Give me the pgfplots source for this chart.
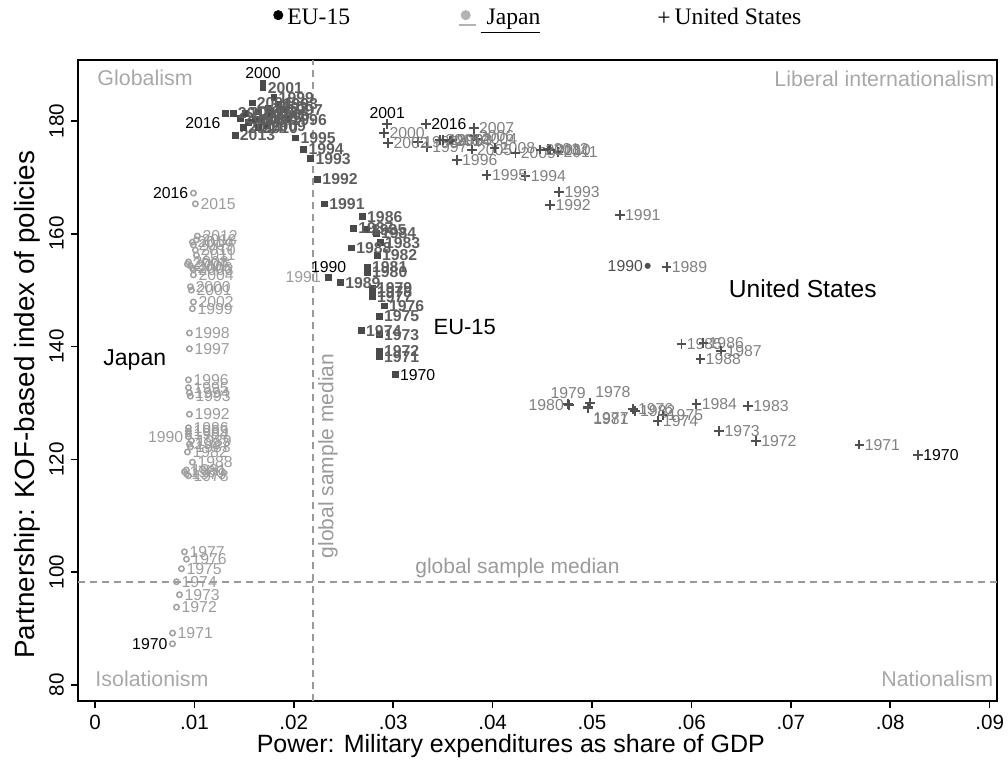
\documentclass[border=0pt]{standalone}
\usepackage{fontspec}
\setmainfont{Liberation Sans}
\newfontfamily\legfont{Liberation Serif}
\usepackage{pgfplots}
\usepackage{pgfplotstable}
\pgfplotsset{compat=1.18}
\definecolor{emark}{HTML}{4A4A4A}
\definecolor{elab}{HTML}{5E5E5E}
\definecolor{umark}{HTML}{505050}
\definecolor{ulab}{HTML}{808080}
\definecolor{jmark}{HTML}{A0A0A0}
\definecolor{jlab}{HTML}{9C9C9C}
\definecolor{dlab}{HTML}{4F4F4F}
\definecolor{corner}{HTML}{A8A8A8}
\definecolor{medc}{HTML}{9A9A9A}
\newcommand\fblack{\fontsize{7.9}{8}\selectfont}
\newcommand\felab{\fontsize{7.9}{8}\selectfont\bfseries}
\newcommand\fulab{\fontsize{7.9}{8}\selectfont}

% EU-15: year labels to the right
\pgfplotstableread{
x y lab
0.0286 138.2 1971
0.0286 139.2 1972
0.0286 142.1 1973
0.0268 142.8 1974
0.0286 145.4 1975
0.0291 147.2 1976
0.0279 148.8 1977
0.0279 149.7 1978
0.0279 150.4 1979
0.0274 153.2 1980
0.0274 154.1 1981
0.0284 156.2 1982
0.0287 158.4 1983
0.0283 160.1 1984
0.0273 160.7 1985
0.0269 163.0 1986
0.0260 161.0 1987
0.0258 157.5 1988
0.0247 151.3 1989
0.0231 165.3 1991
0.0224 169.7 1992
0.0217 173.3 1993
0.0210 175.0 1994
0.0202 177.0 1995
0.0193 180.2 1996
0.0189 182.0 1997
0.0184 183.0 1998
0.0180 184.1 1999
0.0169 185.9 2001
0.0174 182.3 2002
0.0164 181.6 2003
0.0158 183.2 2004
0.0168 180.5 2005
0.0176 181.1 2006
0.0161 180.2 2007
0.0154 179.8 2008
0.0172 179.1 2009
0.0164 178.8 2010
0.0146 180.5 2011
0.0151 181.4 2012
0.0141 177.5 2013
0.0149 178.8 2014
0.0139 181.4 2015
}\eudata

% Japan: year labels to the right
\pgfplotstableread{
x y lab
0.0078 89.2 1971
0.0082 93.8 1972
0.0085 96.0 1973
0.0082 98.3 1974
0.0087 100.6 1975
0.0092 102.3 1976
0.0090 103.6 1977
0.0094 117.1 1978
0.0092 117.4 1979
0.0090 117.8 1980
0.0092 118.1 1981
0.0093 121.3 1982
0.0096 122.2 1983
0.0094 124.5 1984
0.0094 125.0 1985
0.0094 125.6 1986
0.0095 122.7 1987
0.0098 119.5 1988
0.0097 123.3 1989
0.0095 128.0 1992
0.0096 131.2 1993
0.0095 131.8 1994
0.0094 132.7 1995
0.0094 134.1 1996
0.0095 139.6 1997
0.0095 142.4 1998
0.0098 146.7 1999
0.0096 150.6 2000
0.0097 150.0 2001
0.0099 147.9 2002
0.0099 153.6 2003
0.0099 152.7 2004
0.0096 154.3 2005
0.0098 153.9 2006
0.0093 154.6 2007
0.0094 155.0 2008
0.0099 158.0 2009
0.0101 157.1 2010
0.0102 156.2 2011
0.0103 159.6 2012
0.0102 158.9 2013
0.0098 158.5 2014
0.0101 165.3 2015
}\jpdata

% United States: year labels to the right
\pgfplotstableread{
x y lab
0.0769 122.6 1971
0.0665 123.3 1972
0.0628 125.0 1973
0.0566 126.8 1974
0.0571 127.9 1975
0.0541 128.9 1976
0.0543 128.6 1982
0.0657 129.5 1983
0.0605 129.8 1984
0.0590 140.5 1985
0.0612 140.6 1986
0.0630 139.2 1987
0.0609 137.8 1988
0.0575 154.1 1989
0.0528 163.3 1991
0.0458 165.1 1992
0.0467 167.4 1993
0.0433 170.2 1994
0.0394 170.4 1995
0.0364 173.1 1996
0.0334 175.4 1997
0.0325 176.3 1998
0.0350 176.6 1999
0.0291 177.9 2000
0.0295 176.1 2002
0.0359 176.6 2003
0.0384 176.8 2004
0.0379 174.9 2005
0.0381 177.3 2006
0.0381 178.8 2007
0.0402 175.2 2008
0.0423 174.3 2009
0.0458 174.9 2010
0.0466 174.5 2011
0.0456 175.0 2012
0.0448 174.9 2013
0.0357 176.5 2014
0.0347 176.6 2015
}\usdata

\pgfplotsset{
  ylab/.style n args={3}{
    point meta=explicit symbolic,
    nodes near coords,
    every node near coord/.append style={anchor=#1, text=#2, font=#3, inner sep=2.2pt},
  },
  eu/.style={forget plot, only marks, mark=square*, mark size=1.45pt, color=emark},
  jp/.style={forget plot, only marks, mark=o, mark size=1.35pt, color=jmark, mark options={line width=0.75pt}},
  us/.style={forget plot, only marks, mark=+, mark size=2.4pt, color=umark, mark options={line width=0.95pt}},
}

\begin{document}
\begin{tikzpicture}
\useasboundingbox (-39pt,-36.5pt) rectangle (465pt,350.5pt);
\begin{axis}[
  at={(0,0)}, anchor=south west,
  scale only axis, width=459.5pt, height=320.5pt,
  xmin=-0.00171, xmax=0.09074, ymin=77.16, ymax=190.8,
  clip=false,
  scaled x ticks=false,
  axis line style={line width=0.8pt},
  tick style={line width=0.8pt, black},
  tick align=outside, major tick length=3.5pt,
  xtick pos=left, ytick pos=left,
  xtick={0,0.01,0.02,0.03,0.04,0.05,0.06,0.07,0.08,0.09},
  xticklabels={0,.01,.02,.03,.04,.05,.06,.07,.08,.09},
  ytick={80,100,120,140,160,180},
  yticklabels={80,100,120,140,160,180},
  yticklabel style={rotate=90, anchor=south},
  ticklabel style={font=\fontsize{10.3}{12}\selectfont},
  every axis x label/.style={at={(axis description cs:0.471,-0.0796)}, anchor=base, font=\fontsize{12.5}{14}\selectfont},
  every axis y label/.style={at={(axis description cs:-0.047,0.462)}, rotate=90, anchor=base, font=\fontsize{13.9}{15}\selectfont},
  xlabel={Power: Military expenditures as share of GDP},
  ylabel={Partnership: KOF-based index of policies},
  legend style={at={(axis description cs:0.5019,1.0655)}, anchor=center, draw=none, fill=none,
    legend columns=3, font=\legfont\fontsize{11.8}{13}\selectfont,
    /tikz/every even column/.append style={column sep=52pt}},
]
\addlegendimage{legend image code/.code={\fill[black] (0.12cm,0.05cm) circle (2.3pt);}}
\addlegendentry{EU-15}
\addlegendimage{legend image code/.code={\fill[jmark!80] (0.12cm,0.05cm) circle (2.3pt); \draw[jmark!80, line width=0.7pt] (0cm,-0.12cm) -- (0.3cm,-0.12cm);}}
\addlegendentry{\underline{\hspace{3pt}Japan}}
\addlegendimage{legend image code/.code={\path[draw=none, fill=none] (0.065cm,0) -- (0.1cm,0); \node[inner sep=0pt, draw=none] at (0.34cm,-0.04cm) {\legfont\fontsize{11.8}{13}\selectfont +};}}
\addlegendentry{United States}

% median lines
\addplot[forget plot, medc, dash pattern=on 3.5pt off 2.5pt, line width=0.9pt] coordinates {(0.0219,77.16) (0.0219,190.8)};
\addplot[forget plot, medc, dash pattern=on 3.5pt off 2.5pt, line width=0.9pt] coordinates {(-0.00171,98.2) (0.09074,98.2)};

\node[medc, font=\fontsize{10.5}{12}\selectfont] at (axis cs:0.0425,100.8) {global sample median};
\node[medc, rotate=90, font=\fontsize{10.5}{12}\selectfont] at (axis cs:0.02344,120.6) {global sample median};

% corner labels
\node[corner, anchor=west, font=\fontsize{10.7}{12}\selectfont] at (rel axis cs:0.0135,0.972) {Globalism};
\node[corner, anchor=east, font=\fontsize{10.7}{12}\selectfont] at (rel axis cs:1.005,0.970) {Liberal internationalism};
\node[corner, anchor=west, font=\fontsize{10.7}{12}\selectfont] at (rel axis cs:0.0113,0.034) {Isolationism};
\node[corner, anchor=east, font=\fontsize{10.7}{12}\selectfont] at (rel axis cs:1.0035,0.034) {Nationalism};

% group labels
\node[font=\fontsize{11.5}{13}\selectfont] at (axis cs:0.0040,137.6) {Japan};
\node[font=\fontsize{11}{13}\selectfont] at (axis cs:0.0372,143.5) {EU-15};
\node[font=\fontsize{12.3}{14}\selectfont] at (axis cs:0.0712,150.2) {United States};

% EU-15
\addplot[eu, ylab={west}{elab}{\felab}] table[x=x, y=y, meta=lab] {\eudata};
\addplot[eu, ylab={west}{black}{\fblack}] coordinates {(0.0302,135.0) [1970]};
\addplot[eu, ylab={south}{black}{\fblack}] coordinates {(0.0235,152.3) [1990] (0.0169,186.6) [2000]};
\addplot[eu, ylab={north east}{black}{\fblack}] coordinates {(0.0131,181.4) [2016]};
\node[jlab, anchor=east, font=\fulab, inner sep=2.2pt] at (axis cs:0.0232,152.3) {1991};

% Japan
\addplot[jp, ylab={west}{jlab}{\fulab}] table[x=x, y=y, meta=lab] {\jpdata};
\addplot[jp, ylab={east}{jlab}{\fulab}] coordinates {(0.0094,124.0) [1990]};
\addplot[jp, ylab={east}{black}{\fblack}] coordinates {(0.0078,87.3) [1970] (0.0099,167.2) [2016]};

% United States
\addplot[us, ylab={west}{ulab}{\fulab}] table[x=x, y=y, meta=lab] {\usdata};
\addplot[us, ylab={north west}{ulab}{\fulab}] coordinates {(0.0496,129.3) [1977] (0.0496,129.1) [1981]};
\addplot[us, ylab={south west}{ulab}{\fulab}] coordinates {(0.0498,130.0) [1978]};
\addplot[us, ylab={south}{ulab}{\fulab}] coordinates {(0.0476,129.8) [1979]};
\addplot[us, ylab={east}{ulab}{\fulab}] coordinates {(0.0477,129.6) [1980]};
\addplot[us, ylab={west}{black}{\fblack}] coordinates {(0.0828,120.8) [1970] (0.0333,179.5) [2016]};
\addplot[us, ylab={south}{black}{\fblack}] coordinates {(0.0294,179.5) [2001]};
\addplot[forget plot, only marks, mark=*, mark size=1.3pt, color=umark, ylab={east}{dlab}{\fulab}] coordinates {(0.0556,154.3) [1990]};
\end{axis}
\end{tikzpicture}
\end{document}
